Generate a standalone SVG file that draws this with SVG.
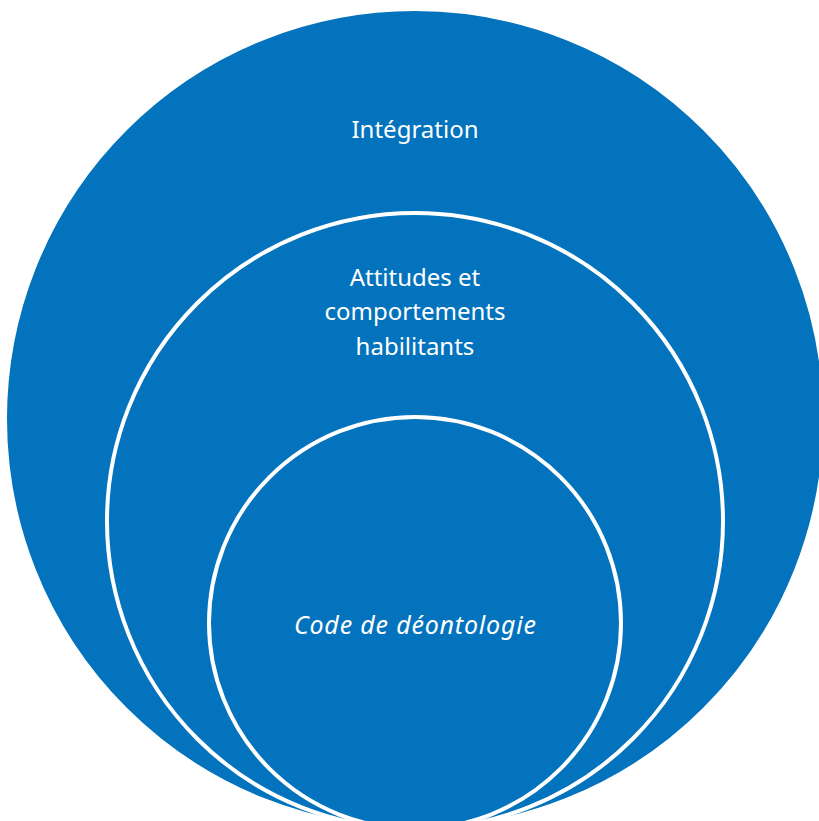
<svg xmlns="http://www.w3.org/2000/svg" width="819" height="821" viewBox="0 0 819 821">
<style>
.c{fill:#0473BD;stroke:#FFFFFF;stroke-width:4}
.t{fill:#FFFFFF;font-family:"Noto Sans","Open Sans","Liberation Sans",sans-serif;font-size:24px;text-anchor:middle}
.i{font-style:italic;font-size:25px}
</style>
<rect width="819" height="821" fill="#FFFFFF"/>
<g id="integration">
<circle class="c" cx="415" cy="419" r="410"/>
<text class="t" x="415" y="138">Intégration</text>
</g>
<g id="attitudes">
<circle class="c" cx="415" cy="521" r="308"/>
<text class="t" x="415" y="286">Attitudes et</text>
<text class="t" x="415" y="320">comportements</text>
<text class="t" x="415" y="355">habilitants</text>
</g>
<g id="code">
<circle class="c" cx="415" cy="623" r="206"/>
<text class="t i" x="415" y="634" textLength="242" lengthAdjust="spacing">Code de déontologie</text>
</g>
<g id="connectors"/>
</svg>
